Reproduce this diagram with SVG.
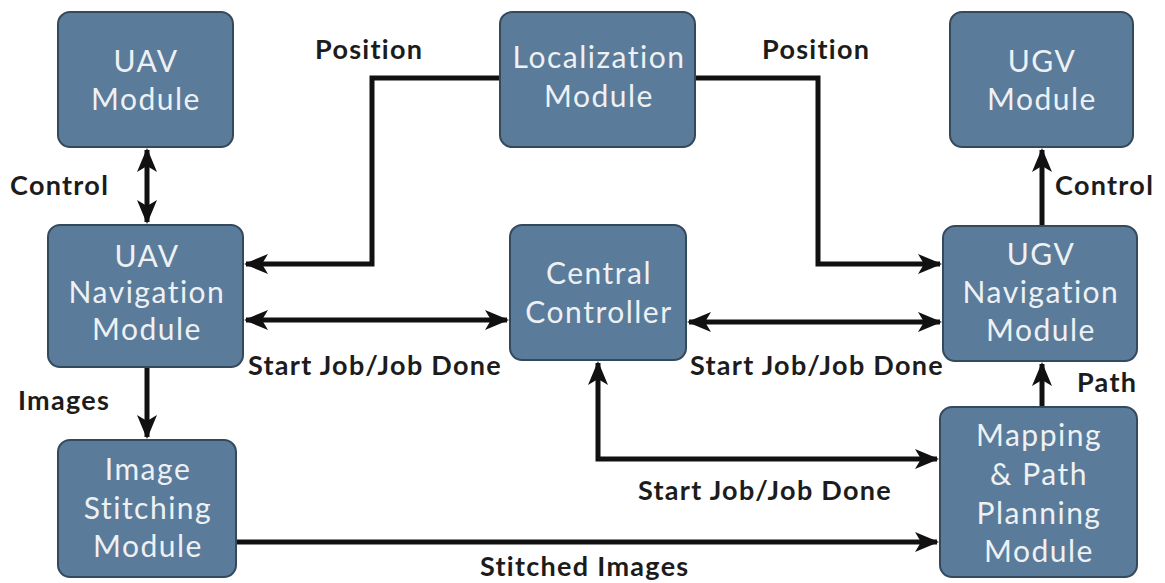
<svg xmlns="http://www.w3.org/2000/svg" width="1165" height="583" viewBox="0 0 1165 583">
<defs>
<marker id="ah" markerUnits="userSpaceOnUse" markerWidth="24" markerHeight="22" viewBox="0 0 24 22" refX="22" refY="11" orient="auto-start-reverse">
<path d="M0,1 L24,11 L0,21 L6,11 Z" fill="#111"/>
</marker>
<style>
.box{fill:#5b7b9a;stroke:#34495c;stroke-width:2}
.bt{font-family:Lato,"Open Sans",sans-serif;font-size:30px;letter-spacing:1.5px;fill:#eef1f4;text-anchor:middle}
.lb{font-family:Lato,"Open Sans",sans-serif;font-size:27px;letter-spacing:1.3px;font-weight:bold;fill:#1c1c1c}
.c{fill:none;stroke:#111;stroke-width:5}
</style>
</defs>
<rect width="1165" height="583" fill="#fff"/>
<g id="connectors">
<path class="c" d="M147,150 L147,222" marker-start="url(#ah)" marker-end="url(#ah)"/>
<path class="c" d="M500,78 L372,78 L372,264 L246,264" marker-end="url(#ah)"/>
<path class="c" d="M695,78 L818,78 L818,264 L940,264" marker-end="url(#ah)"/>
<path class="c" d="M246,320 L507,320" marker-start="url(#ah)" marker-end="url(#ah)"/>
<path class="c" d="M689,322 L940,322" marker-start="url(#ah)" marker-end="url(#ah)"/>
<path class="c" d="M598,363 L598,459 L937,459" marker-start="url(#ah)" marker-end="url(#ah)"/>
<path class="c" d="M236,542 L937,542" marker-end="url(#ah)"/>
<path class="c" d="M147,367 L147,437" marker-end="url(#ah)"/>
<path class="c" d="M1042,226 L1042,150" marker-end="url(#ah)"/>
<path class="c" d="M1042,407 L1042,364" marker-end="url(#ah)"/>
</g>
<g id="uav-module"><rect class="box" x="58" y="12" width="175" height="135" rx="12"/><text class="bt" x="146" y="72">UAV</text><text class="bt" x="146" y="110">Module</text></g>
<g id="localization-module"><rect class="box" x="500" y="12" width="195" height="135" rx="12"/><text class="bt" x="599" y="68">Localization</text><text class="bt" x="599" y="107">Module</text></g>
<g id="ugv-module"><rect class="box" x="950" y="12" width="183" height="135" rx="12"/><text class="bt" x="1042" y="72">UGV</text><text class="bt" x="1042" y="110">Module</text></g>
<g id="uav-navigation-module"><rect class="box" x="48" y="225" width="195" height="142" rx="12"/><text class="bt" x="147" y="267">UAV</text><text class="bt" x="147" y="303">Navigation</text><text class="bt" x="147" y="340">Module</text></g>
<g id="central-controller"><rect class="box" x="510" y="225" width="176" height="135" rx="12"/><text class="bt" x="599" y="284">Central</text><text class="bt" x="599" y="323">Controller</text></g>
<g id="ugv-navigation-module"><rect class="box" x="943" y="226" width="194" height="135" rx="12"/><text class="bt" x="1041" y="265">UGV</text><text class="bt" x="1041" y="303">Navigation</text><text class="bt" x="1041" y="341">Module</text></g>
<g id="image-stitching-module"><rect class="box" x="58" y="440" width="178" height="137" rx="12"/><text class="bt" x="148" y="480">Image</text><text class="bt" x="148" y="519">Stitching</text><text class="bt" x="148" y="557">Module</text></g>
<g id="mapping-path-planning-module"><rect class="box" x="940" y="407" width="197" height="170" rx="12"/><text class="bt" x="1039" y="446">Mapping</text><text class="bt" x="1039" y="485">&amp; Path</text><text class="bt" x="1039" y="524">Planning</text><text class="bt" x="1039" y="562">Module</text></g>
<g id="labels">
<text class="lb" x="315" y="59">Position</text>
<text class="lb" x="762" y="59">Position</text>
<text class="lb" x="10" y="195">Control</text>
<text class="lb" x="1055" y="195">Control</text>
<text class="lb" x="248" y="375">Start Job/Job Done</text>
<text class="lb" x="690" y="375">Start Job/Job Done</text>
<text class="lb" x="18" y="410">Images</text>
<text class="lb" x="1077" y="392">Path</text>
<text class="lb" x="638" y="500">Start Job/Job Done</text>
<text class="lb" x="480" y="576">Stitched Images</text>
</g>
</svg>
